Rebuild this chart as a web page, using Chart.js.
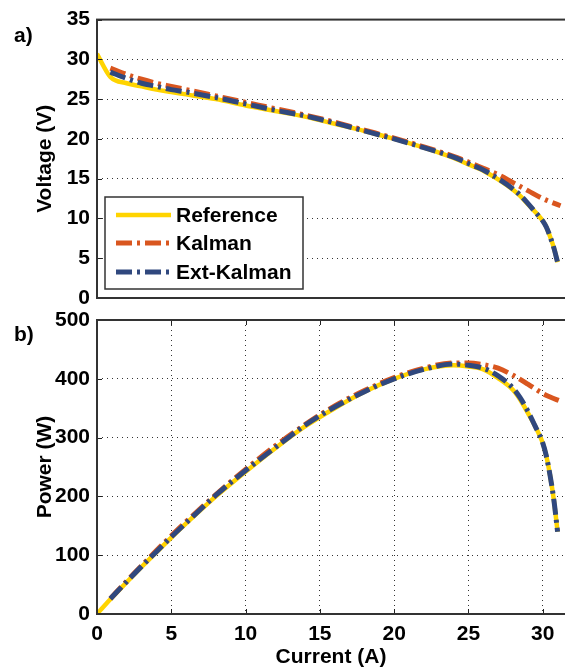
<!DOCTYPE html>
<html>
<head>
<meta charset="utf-8">
<script src="https://cdn.jsdelivr.net/npm/chart.js@4.4.0/dist/chart.umd.min.js"></script>
<style>
  html, body { margin: 0; padding: 0; background: #fff; }
  #wrap { position: relative; width: 565px; height: 670px; overflow: hidden; }
  canvas { position: absolute; left: 0; top: 0; }
</style>
</head>
<body>
<div id="wrap">
  <canvas id="voltageChart" width="565" height="670"></canvas>
  <canvas id="powerChart" width="565" height="670"></canvas>
</div>
<script>
// current (A) sample points for each curve
const currentRef = [0, 0.9, 2, 3, 4, 5, 6, 8, 10, 12, 14, 16, 18, 20, 22, 24, 25, 26, 27, 28, 28.5, 29, 29.5, 30, 30.25, 30.5, 30.75, 31];
const currentKalman = [0.9, 2, 3, 4, 5, 6, 8, 10, 12, 14, 16, 18, 20, 22, 24, 25, 26, 27, 28, 29, 30, 30.5, 31.2];
const currentExt = [0.9, 2, 3, 4, 5, 6, 8, 10, 12, 14, 16, 18, 20, 22, 24, 25, 26, 27, 28, 28.5, 29, 29.5, 30, 30.25, 30.5, 30.75, 31];

// voltage (V)
const voltageRef = [30.7, 27.8, 27.0, 26.6, 26.2, 25.9, 25.6, 25.0, 24.2, 23.5, 22.8, 21.9, 21.0, 20.0, 18.9, 17.6, 16.8, 16.0, 14.9, 13.6, 12.8, 11.8, 10.8, 9.7, 8.9, 7.7, 6.3, 4.5];
const voltageKalman = [28.9, 28.1, 27.5, 27.0, 26.6, 26.2, 25.4, 24.6, 23.8, 23.0, 22.1, 21.1, 20.1, 19.0, 17.8, 17.1, 16.3, 15.5, 14.5, 13.5, 12.5, 12.1, 11.6];
const voltageExt = [28.4, 27.6, 27.0, 26.6, 26.2, 25.9, 25.2, 24.4, 23.6, 22.9, 22.0, 21.0, 20.0, 18.9, 17.7, 16.9, 16.1, 15.0, 13.7, 12.9, 11.9, 10.8, 9.7, 8.9, 7.7, 6.3, 4.5];

// power (W)
const powerRef = [0, 25, 54, 80, 105, 130, 154, 200, 242, 282, 319, 350, 378, 400, 416, 423, 421, 416, 401, 381, 364, 342, 319, 291, 268, 235, 194, 140];
const powerKalman = [26, 56, 82, 108, 133, 157, 203, 246, 286, 322, 354, 380, 402, 418, 427, 427, 424, 418, 406, 391, 375, 369, 362];
const powerExt = [26, 55, 81, 106, 131, 155, 202, 244, 283, 321, 352, 378, 400, 416, 425, 423, 418, 405, 384, 367, 345, 319, 291, 268, 235, 194, 140];

const seriesNames = ['Reference', 'Kalman', 'Ext-Kalman'];
const xTicks = [0, 5, 10, 15, 20, 25, 30];

const YELLOW = '#ffd400';
const ORANGE = '#d9561f';
const BLUE = '#30487e';
const DASH = [16, 5, 3, 5];

Chart.defaults.font.family = '"Liberation Sans", Arial, sans-serif';
Chart.defaults.font.size = 21;
Chart.defaults.font.weight = 'bold';
Chart.defaults.color = '#000';

const pts = (xs, ys) => xs.map((x, i) => ({ x: x, y: ys[i] }));

function makeDatasets(yRef, yKal, yExt) {
  const common = { pointRadius: 0, fill: false, tension: 0.4, cubicInterpolationMode: 'monotone' };
  return [
    Object.assign({ label: seriesNames[0], data: pts(currentRef, yRef), borderColor: YELLOW, borderWidth: 4.5, order: 3 }, common),
    Object.assign({ label: seriesNames[1], data: pts(currentKalman, yKal), borderColor: ORANGE, borderWidth: 5, borderDash: DASH, order: 2 }, common),
    Object.assign({ label: seriesNames[2], data: pts(currentExt, yExt), borderColor: BLUE, borderWidth: 5, borderDash: DASH, order: 1 }, common)
  ];
}

// box around the plot plus inward ticks, matlab style
const framePlugin = {
  id: 'frame',
  afterDraw(chart, args, opts) {
    const { ctx, chartArea: a, scales } = chart;
    ctx.save();
    ctx.strokeStyle = '#222';
    ctx.lineWidth = 1;
    const seg = (x1, y1, x2, y2) => { ctx.beginPath(); ctx.moveTo(x1, y1); ctx.lineTo(x2, y2); ctx.stroke(); };
    scales.y.ticks.forEach(t => {
      const y = Math.round(scales.y.getPixelForValue(t.value)) + 0.5;
      seg(a.left, y, a.left + 5, y);
    });
    if (opts.xTicks) {
      scales.x.ticks.forEach(t => {
        const x = Math.round(scales.x.getPixelForValue(t.value)) + 0.5;
        seg(x, a.bottom, x, a.bottom - 5);
        seg(x, a.top, x, a.top + 5);
      });
    }
    ctx.strokeStyle = '#333';
    ctx.lineWidth = 2;
    ctx.strokeRect(a.left, a.top, a.right - a.left + 20, a.bottom - a.top);
    // panel letter
    ctx.fillStyle = '#000';
    ctx.font = 'bold 21px "Liberation Sans", Arial, sans-serif';
    ctx.textAlign = 'left';
    ctx.textBaseline = 'middle';
    ctx.fillText(opts.letter, 14, a.top + opts.letterDy);
    ctx.restore();
  }
};

// legend box in the lower left of the voltage plot
const legendPlugin = {
  id: 'boxLegend',
  afterDraw(chart, args, opts) {
    if (!opts.show) return;
    const ctx = chart.ctx;
    ctx.save();
    ctx.fillStyle = '#fff';
    ctx.fillRect(105, 197, 198, 92);
    ctx.strokeStyle = '#333';
    ctx.lineWidth = 1.5;
    ctx.strokeRect(105, 197, 198, 92);
    const rows = [215, 243, 272];
    chart.data.datasets.forEach((ds, i) => {
      ctx.strokeStyle = ds.borderColor;
      ctx.lineWidth = ds.borderWidth;
      ctx.setLineDash(ds.borderDash || []);
      ctx.beginPath();
      ctx.moveTo(116, rows[i]);
      ctx.lineTo(171, rows[i]);
      ctx.stroke();
      ctx.setLineDash([]);
      ctx.fillStyle = '#000';
      ctx.font = 'bold 21px "Liberation Sans", Arial, sans-serif';
      ctx.textBaseline = 'middle';
      ctx.fillText(ds.label, 176, rows[i] + 1);
    });
    ctx.restore();
  }
};

function xScale(showLabels, height) {
  return {
    type: 'linear',
    min: 0,
    max: 31.5,
    afterBuildTicks: s => { s.ticks = xTicks.map(v => ({ value: v })); },
    afterFit: s => { s.height = height; },
    ticks: { display: showLabels, padding: 8, callback: v => v },
    grid: { display: showLabels, drawTicks: false, color: 'rgba(0,0,0,0.8)' },
    border: { display: false, dash: [1, 4] },
    title: { display: showLabels, text: 'Current (A)', padding: { top: 0, bottom: 0 } }
  };
}

function yScale(max, step, label) {
  return {
    min: 0,
    max: max,
    ticks: { stepSize: step, padding: 7 },
    afterFit: s => { s.width = 68; },
    grid: { drawTicks: false, color: 'rgba(0,0,0,0.8)' },
    border: { display: false, dash: [1, 4] },
    title: { display: true, text: label, padding: { top: 4, bottom: 0 } }
  };
}

new Chart(document.getElementById('voltageChart'), {
  type: 'line',
  data: { datasets: makeDatasets(voltageRef, voltageKalman, voltageExt) },
  options: {
    responsive: false,
    animation: false,
    layout: { padding: { top: 17, left: 29, right: 0, bottom: 372 } },
    plugins: {
      legend: { display: false },
      tooltip: { enabled: false },
      frame: { xTicks: false, letter: 'a)', letterDy: 17 },
      boxLegend: { show: true }
    },
    scales: {
      x: xScale(false, 0),
      y: yScale(35, 5, 'Voltage (V)')
    }
  },
  plugins: [framePlugin, legendPlugin]
});

new Chart(document.getElementById('powerChart'), {
  type: 'line',
  data: { datasets: makeDatasets(powerRef, powerKalman, powerExt) },
  options: {
    responsive: false,
    animation: false,
    layout: { padding: { top: 320, left: 29, right: 0, bottom: 0 } },
    plugins: {
      legend: { display: false },
      tooltip: { enabled: false },
      frame: { xTicks: true, letter: 'b)', letterDy: 15 },
      boxLegend: { show: false }
    },
    scales: {
      x: xScale(true, 56),
      y: yScale(500, 100, 'Power (W)')
    }
  },
  plugins: [framePlugin, legendPlugin]
});
</script>
</body>
</html>
